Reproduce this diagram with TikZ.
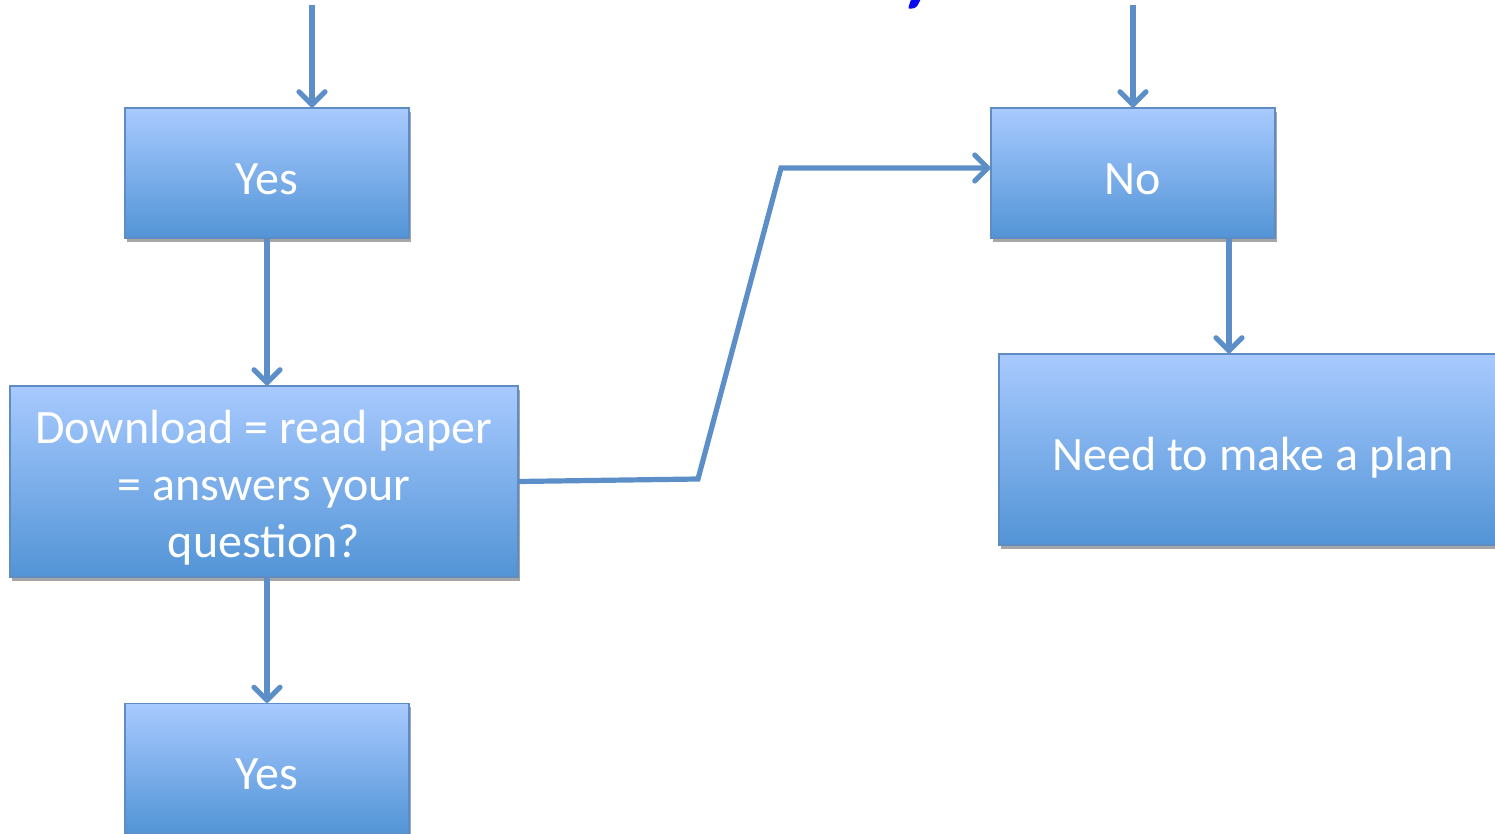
\documentclass[tikz,border=0pt]{standalone}
\usepackage{fontspec}
\setmainfont{Carlito}
\usetikzlibrary{arrows.meta,shadows}
\definecolor{lineblue}{RGB}{92,143,200}
\definecolor{boxtop}{RGB}{168,202,255}
\definecolor{boxbot}{RGB}{82,148,214}
\definecolor{boxedge}{RGB}{95,140,195}
\definecolor{titleblue}{RGB}{10,10,240}
\tikzset{
  flowbox/.style={rectangle, draw=boxedge, line width=0.6pt, top color=boxtop, bottom color=boxbot,
    inner sep=0pt,
    drop shadow={shadow xshift=1.2pt, shadow yshift=-1.8pt, opacity=0.35, fill=black}},
  boxtext/.style={text=white, align=center, inner sep=0pt, yshift=-3pt,
    font=\fontsize{24}{28.5}\selectfont},
  smallbox/.style={flowbox, minimum width=142pt, minimum height=65pt},
  bigbox/.style={flowbox, minimum width=254pt, minimum height=95.5pt},
  arr/.style={draw=lineblue, line width=2.6pt, line join=miter,
    -{Straight Barb[length=6.5pt,width=13pt,line width=2.6pt,round]}}
}
\begin{document}
\begin{tikzpicture}[x=0.5pt,y=-0.5pt]
\useasboundingbox (0,0) rectangle (1495,834);
\clip (0,0) rectangle (1495,834);
\fill[white] (0,0) rectangle (1495,834);
% fragment of the clipped title
\fill[titleblue, rounded corners=1pt] (911,-1) -- (921,-1) -- (916,8) -- (908,9) -- cycle;

\node[smallbox, label={[boxtext]center:Yes}] (yes1) at (267,173) {};
\node[bigbox, label={[boxtext]center:Download = read paper\\= answers your\\question?}] (dl) at (264,481.5) {};
\node[smallbox, label={[boxtext]center:Yes}] (yes2) at (267,768.5) {};
\node[smallbox, label={[boxtext]center:No}] (no) at (1133,173) {};
\node[bigbox, label={[boxtext, yshift=-1pt]center:Need to make a plan}] (need) at (1253,449.5) {};

\coordinate (t1) at (312,5);
\coordinate (t2) at (1133,5);
\coordinate (b1) at (698,479);
\coordinate (b2) at (781,168);

\draw[arr] (t1) -- (t1 |- yes1.north);
\draw[arr] (t2) -- (t2 |- no.north);
\draw[arr] (yes1.south) -- (yes1.south |- dl.north);
\draw[arr] (yes1.south |- dl.south) -- (yes1.south |- yes2.north);
\draw[arr] (dl.east) -- (b1) -- (b2) -- (b2 -| no.west);
\draw[arr] ([xshift=48pt]no.south) -- ([xshift=48pt]no.south |- need.north);
\end{tikzpicture}
\end{document}
